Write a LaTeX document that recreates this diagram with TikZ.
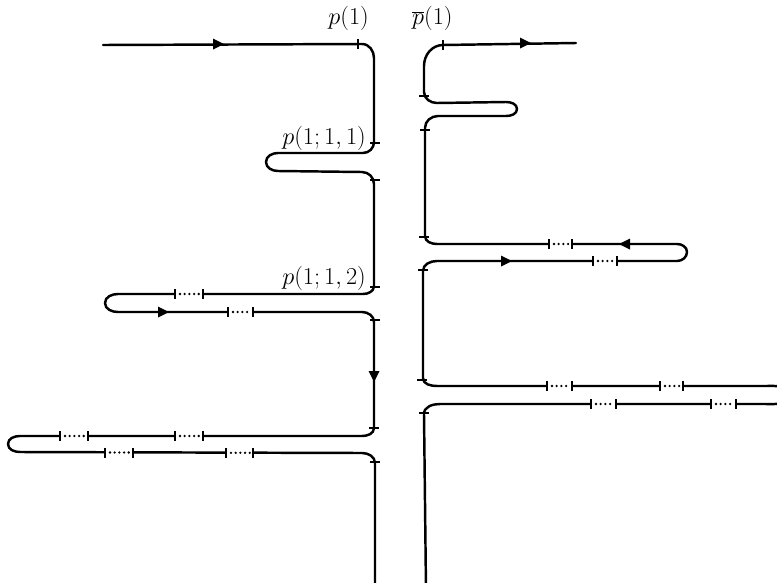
\documentclass[tikz,border=0pt]{standalone}
\begin{document}
\begin{tikzpicture}[x=0.03cm,y=-0.03cm,
  strand/.style={line width=2.1pt, line cap=round, line join=round},
  gapdots/.style={line width=2.2pt, dash pattern=on 0pt off 4pt, line cap=round},
  tickmark/.style={line width=1.6pt},
  lab/.style={inner sep=0pt, font=\huge},
  pics/arrR/.style={code={\fill (6,0) -- (-5,5.5) -- (-5,-5.5) -- cycle;}}]
\useasboundingbox (0,0) rectangle (777,582);
\clip (0,0) rectangle (777,582);
\newcommand\dgap[3]{%
  \fill[white] (#1,#3-3.5) rectangle (#2,#3+3.5);
  \draw[gapdots] (#1+5,#3) -- (#2-3,#3);
  \draw[tickmark] (#1,#3-5) -- (#1,#3+5);
  \draw[tickmark] (#2,#3-5) -- (#2,#3+5);}
\newcommand\vtick[2]{\draw[tickmark] (#1,#2-5) -- (#1,#2+5);}
\newcommand\htick[2]{\draw[tickmark] (#1-5,#2) -- (#1+5,#2);}

% labels
\node[lab, anchor=east] (lp1) at (369,18) {$p(1)$};
\node[lab, anchor=west] (lpb1) at (412,18) {$\overline{p}(1)$};
\node[lab, anchor=east] (lp111) at (366,138) {$p(1;1,1)$};
\node[lab, anchor=east] (lp112) at (366,278) {$p(1;1,2)$};

% left strand
\draw[strand] (103,45) -- (362,44) to[out=0,in=90] (374,58) -- (374,142)
  to[out=-90,in=0] (363,153) -- (278,153) to[out=180,in=90] (266,162)
  to[out=-90,in=180] (278,171) -- (362,172) to[out=0,in=90] (374,184)
  -- (374,286) to[out=-90,in=0] (363,294) -- (118,294)
  to[out=180,in=90] (105,303) to[out=-90,in=180] (118,312)
  -- (362,312) to[out=0,in=90] (374,322) -- (374,428)
  to[out=-90,in=0] (362,436) -- (20,436) to[out=180,in=90] (8,444)
  to[out=-90,in=180] (20,452) -- (362,453) to[out=0,in=90] (375,463)
  -- (375,590);

% right strand
\draw[strand] (576,43) -- (443,45) to[out=180,in=90] (424,66) -- (424,92)
  to[out=-90,in=180] (437,103) -- (506,102) to[out=0,in=90] (517,109)
  to[out=-90,in=0] (506,116) -- (438,116) to[out=180,in=90] (425,128)
  -- (425,236) to[out=-90,in=180] (437,244) -- (677,244)
  to[out=0,in=90] (687,252) to[out=-90,in=0] (677,261) -- (437,261)
  to[out=180,in=90] (423,271) -- (423,378) to[out=-90,in=180] (437,386)
  -- (765,386) to[out=0,in=90] (790,395) to[out=-90,in=0] (765,404)
  -- (440,404) to[out=180,in=90] (424,414) -- (426,590);

% arrows
\pic at (218,44) {arrR};
\pic at (525,43) {arrR};
\pic at (163,312) {arrR};
\pic[rotate=-90] at (374,376) {arrR};
\pic[rotate=180] at (625,244) {arrR};
\pic at (506,261) {arrR};

% ticks at the turns
\vtick{358}{44}
\vtick{443}{45}
\htick{375}{143}
\htick{375}{180}
\htick{375}{287}
\htick{375}{320}
\htick{374}{428}
\htick{375}{462}
\htick{424}{96}
\htick{425}{130}
\htick{424}{237}
\htick{423}{270}
\htick{422}{380}
\htick{424}{413}

% dotted gaps
\dgap{175}{203}{294}
\dgap{228}{253}{312}
\dgap{60}{88}{436}
\dgap{175}{203}{436}
\dgap{105}{133}{452.5}
\dgap{226}{253}{452.8}
\dgap{549}{572}{244}
\dgap{593}{617}{261}
\dgap{547}{572}{386}
\dgap{660}{683}{386}
\dgap{591}{616}{404}
\dgap{711}{736}{404}
\end{tikzpicture}
\end{document}
